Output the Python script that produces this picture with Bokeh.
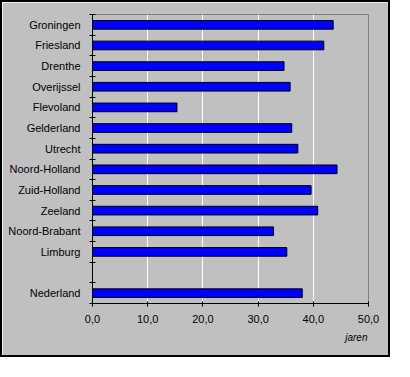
from bokeh.plotting import figure
from bokeh.models import Range1d, FixedTicker, ColumnDataSource, LinearAxis
from bokeh.embed import file_html
from bokeh.resources import INLINE

regions = ["Groningen", "Friesland", "Drenthe", "Overijssel", "Flevoland",
           "Gelderland", "Utrecht", "Noord-Holland", "Zuid-Holland", "Zeeland",
           "Noord-Brabant", "Limburg", "", "Nederland"]
values = [43.6, 41.9, 34.7, 35.8, 15.3, 36.1, 37.2, 44.3, 39.6, 40.8,
          32.8, 35.2, None, 38.0]
x_ticks = [0, 10, 20, 30, 40, 50]
x_tick_labels = ["0,0", "10,0", "20,0", "30,0", "40,0", "50,0"]
unit_label = "jaren"

n = len(regions)
centers = [n - 0.5 - i for i in range(n)]
src = ColumnDataSource(dict(
    y=[c for c, v in zip(centers, values) if v is not None],
    v=[v for v in values if v is not None],
))

FONT = "Liberation Sans"
p = figure(width=390, height=357, output_backend="svg", toolbar_location=None,
           x_range=Range1d(0, 50), y_range=Range1d(0, n),
           min_border_left=90, min_border_right=24, min_border_top=12,
           min_border_bottom=56)
p.styles = {"border": "2px solid black"}
p.background_fill_color = "#C0C0C0"
p.border_fill_color = "#C0C0C0"
p.outline_line_color = "#808080"
p.outline_line_width = 1

p.hbar(y="y", right="v", left=0, height=0.42, source=src,
       fill_color="#0000FF", line_color="black", line_width=1)

# x axis
p.xaxis.ticker = FixedTicker(ticks=x_ticks)
p.xaxis.major_label_overrides = {t: l for t, l in zip(x_ticks, x_tick_labels)}
p.xaxis.axis_line_color = "black"
p.xaxis.major_tick_in = 2
p.xaxis.major_tick_out = 3
p.xaxis.minor_tick_line_color = None
p.xaxis.major_label_standoff = 8
p.xaxis.major_label_text_font = FONT
p.xaxis.major_label_text_font_size = "11px"
p.xaxis.major_label_text_color = "black"

# unit label as a second, tick-less axis below
unit_axis = LinearAxis(ticker=FixedTicker(ticks=[47.8]),
                       major_label_overrides={47.8: unit_label},
                       axis_line_color=None, major_tick_line_color=None,
                       minor_tick_line_color=None, major_label_standoff=0,
                       major_label_text_font=FONT,
                       major_label_text_font_style="italic",
                       major_label_text_font_size="10px",
                       major_label_text_color="black")
p.add_layout(unit_axis, "below")

# y axis
p.yaxis.ticker = FixedTicker(ticks=centers, minor_ticks=list(range(n + 1)))
p.yaxis.major_label_overrides = {c: r for c, r in zip(centers, regions)}
p.yaxis.axis_line_color = "black"
p.yaxis.major_tick_in = 0
p.yaxis.major_tick_out = 0
p.yaxis.minor_tick_in = 3
p.yaxis.minor_tick_out = 3
p.yaxis.minor_tick_line_color = "black"
p.yaxis.major_label_standoff = 9
p.yaxis.major_label_text_font = FONT
p.yaxis.major_label_text_font_size = "11px"
p.yaxis.major_label_text_color = "black"

p.xgrid.ticker = FixedTicker(ticks=[10, 20, 30, 40])
p.xgrid.grid_line_color = "white"
p.ygrid.grid_line_color = None

open("out.html", "w").write(file_html(p, INLINE))
